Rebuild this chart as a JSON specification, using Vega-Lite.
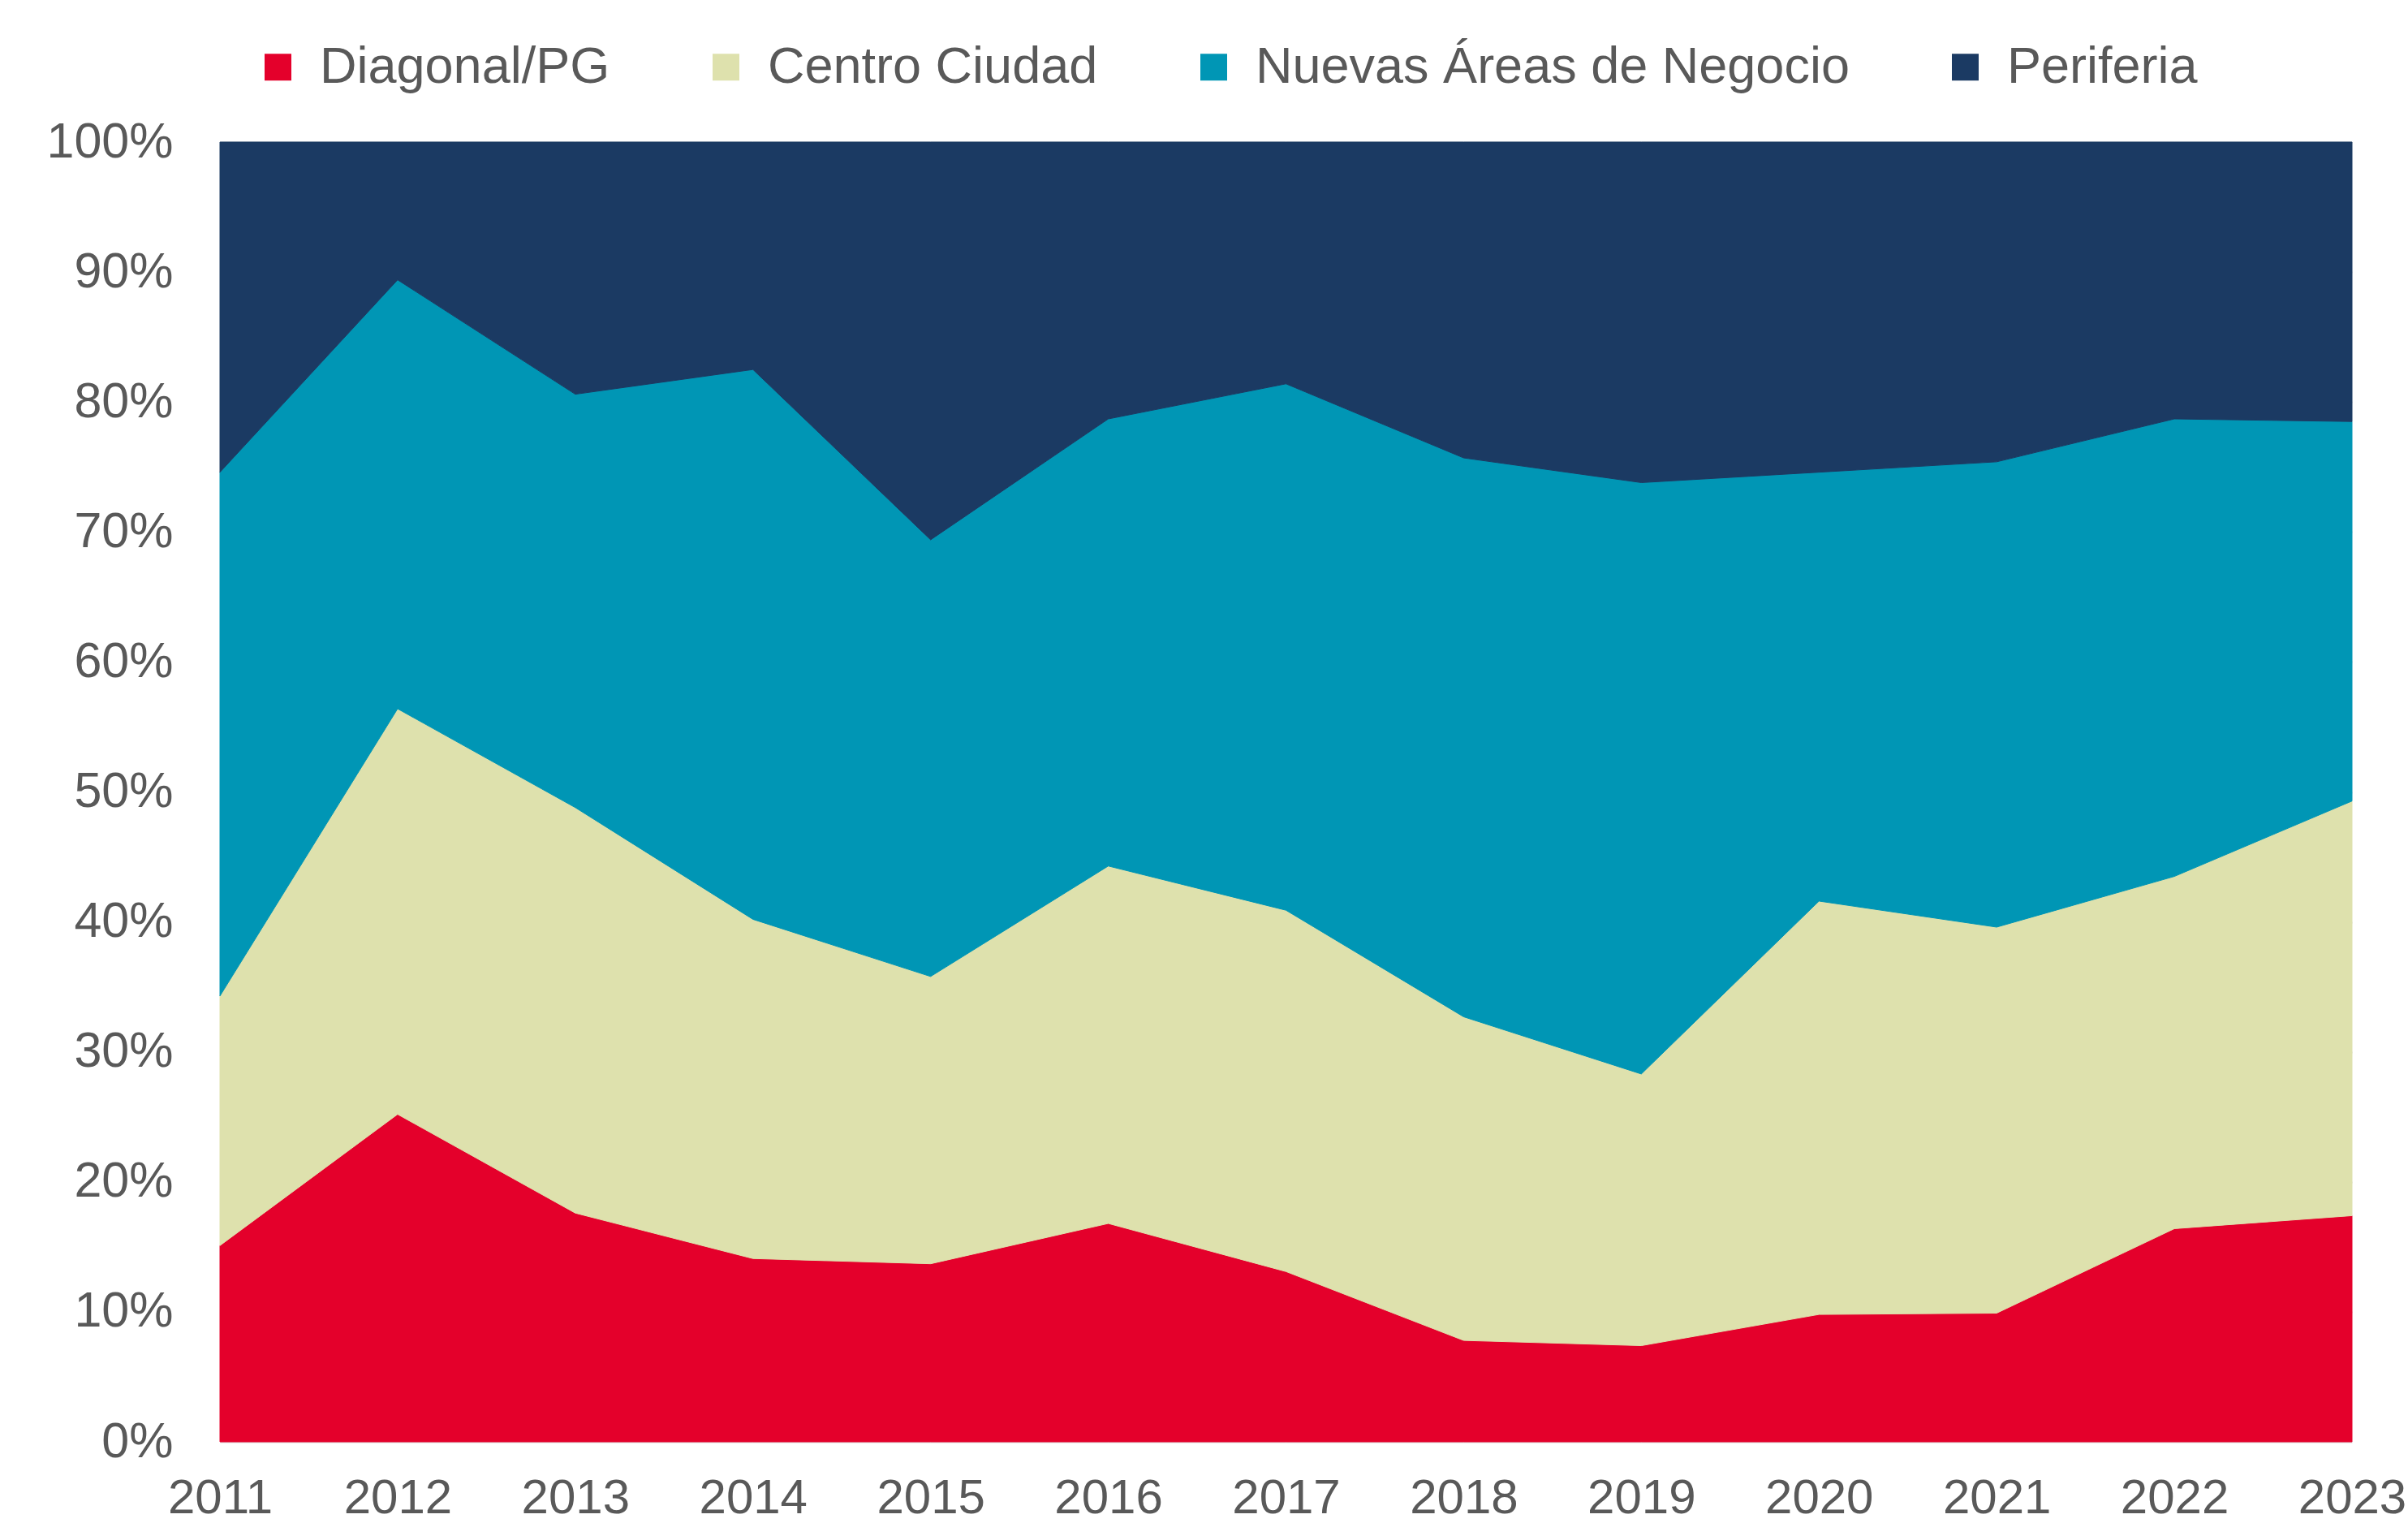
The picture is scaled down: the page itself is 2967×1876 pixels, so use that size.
{
  "$schema": "https://vega.github.io/schema/vega-lite/v6.json",
  "autosize": {"type": "none"},
  "padding": {"left": 271, "top": 175, "right": 69, "bottom": 100},
  "width": 2627,
  "height": 1601,
  "background": "white",
  "config": {
    "view": {"stroke": null},
    "font": "Liberation Sans",
    "axis": {"labelFont": "Liberation Sans", "labelColor": "#595959", "labelFontSize": 61},
    "legend": {"padding": 0}
  },
  "data": {
    "values": [
      {"year": 2011, "zona": "Diagonal/PG", "pct": 15.1},
      {"year": 2012, "zona": "Diagonal/PG", "pct": 25.2},
      {"year": 2013, "zona": "Diagonal/PG", "pct": 17.6},
      {"year": 2014, "zona": "Diagonal/PG", "pct": 14.1},
      {"year": 2015, "zona": "Diagonal/PG", "pct": 13.7},
      {"year": 2016, "zona": "Diagonal/PG", "pct": 16.8},
      {"year": 2017, "zona": "Diagonal/PG", "pct": 13.1},
      {"year": 2018, "zona": "Diagonal/PG", "pct": 7.8},
      {"year": 2019, "zona": "Diagonal/PG", "pct": 7.4},
      {"year": 2020, "zona": "Diagonal/PG", "pct": 9.8},
      {"year": 2021, "zona": "Diagonal/PG", "pct": 9.9},
      {"year": 2022, "zona": "Diagonal/PG", "pct": 16.4},
      {"year": 2023, "zona": "Diagonal/PG", "pct": 17.4},
      {"year": 2011, "zona": "Centro Ciudad", "pct": 19.2},
      {"year": 2012, "zona": "Centro Ciudad", "pct": 31.2},
      {"year": 2013, "zona": "Centro Ciudad", "pct": 31.2},
      {"year": 2014, "zona": "Centro Ciudad", "pct": 26.1},
      {"year": 2015, "zona": "Centro Ciudad", "pct": 22.1},
      {"year": 2016, "zona": "Centro Ciudad", "pct": 27.5},
      {"year": 2017, "zona": "Centro Ciudad", "pct": 27.8},
      {"year": 2018, "zona": "Centro Ciudad", "pct": 24.9},
      {"year": 2019, "zona": "Centro Ciudad", "pct": 20.9},
      {"year": 2020, "zona": "Centro Ciudad", "pct": 31.8},
      {"year": 2021, "zona": "Centro Ciudad", "pct": 29.7},
      {"year": 2022, "zona": "Centro Ciudad", "pct": 27.1},
      {"year": 2023, "zona": "Centro Ciudad", "pct": 31.9},
      {"year": 2011, "zona": "Nuevas Áreas de Negocio", "pct": 40.3},
      {"year": 2012, "zona": "Nuevas Áreas de Negocio", "pct": 33.0},
      {"year": 2013, "zona": "Nuevas Áreas de Negocio", "pct": 31.8},
      {"year": 2014, "zona": "Nuevas Áreas de Negocio", "pct": 42.3},
      {"year": 2015, "zona": "Nuevas Áreas de Negocio", "pct": 33.6},
      {"year": 2016, "zona": "Nuevas Áreas de Negocio", "pct": 34.4},
      {"year": 2017, "zona": "Nuevas Áreas de Negocio", "pct": 40.5},
      {"year": 2018, "zona": "Nuevas Áreas de Negocio", "pct": 43.0},
      {"year": 2019, "zona": "Nuevas Áreas de Negocio", "pct": 45.5},
      {"year": 2020, "zona": "Nuevas Áreas de Negocio", "pct": 33.0},
      {"year": 2021, "zona": "Nuevas Áreas de Negocio", "pct": 35.8},
      {"year": 2022, "zona": "Nuevas Áreas de Negocio", "pct": 35.2},
      {"year": 2023, "zona": "Nuevas Áreas de Negocio", "pct": 29.2},
      {"year": 2011, "zona": "Periferia", "pct": 25.4},
      {"year": 2012, "zona": "Periferia", "pct": 10.6},
      {"year": 2013, "zona": "Periferia", "pct": 19.4},
      {"year": 2014, "zona": "Periferia", "pct": 17.5},
      {"year": 2015, "zona": "Periferia", "pct": 30.6},
      {"year": 2016, "zona": "Periferia", "pct": 21.3},
      {"year": 2017, "zona": "Periferia", "pct": 18.6},
      {"year": 2018, "zona": "Periferia", "pct": 24.3},
      {"year": 2019, "zona": "Periferia", "pct": 26.2},
      {"year": 2020, "zona": "Periferia", "pct": 25.4},
      {"year": 2021, "zona": "Periferia", "pct": 24.6},
      {"year": 2022, "zona": "Periferia", "pct": 21.3},
      {"year": 2023, "zona": "Periferia", "pct": 21.5}
    ]
  },
  "transform": [
    {"calculate": "indexof(['Diagonal/PG', 'Centro Ciudad', 'Nuevas Áreas de Negocio', 'Periferia'], datum.zona)", "as": "orden"}
  ],
  "mark": {"type": "area", "strokeWidth": 1},
  "encoding": {
    "x": {
      "field": "year",
      "type": "quantitative",
      "scale": {"domain": [2011, 2023], "nice": false, "zero": false},
      "axis": {
        "title": null,
        "values": [2011, 2012, 2013, 2014, 2015, 2016, 2017, 2018, 2019, 2020, 2021, 2022, 2023],
        "format": "d",
        "grid": false,
        "ticks": false,
        "domain": false,
        "labelFlush": false,
        "labelOverlap": false,
        "labelPadding": 40,
        "labelFontSize": 60
      }
    },
    "y": {
      "field": "pct",
      "type": "quantitative",
      "stack": "normalize",
      "scale": {"domain": [0, 1], "nice": false},
      "axis": {
        "title": null,
        "values": [0, 0.1, 0.2, 0.3, 0.4, 0.5, 0.6, 0.7, 0.8, 0.9, 1],
        "format": ".0%",
        "grid": true,
        "gridColor": "#d9d9d9",
        "gridWidth": 2,
        "ticks": false,
        "domain": false,
        "labelPadding": 58,
        "labelFontSize": 61
      }
    },
    "order": {"field": "orden", "type": "quantitative", "sort": "ascending"},
    "color": {
      "field": "zona",
      "type": "nominal",
      "sort": ["Diagonal/PG", "Centro Ciudad", "Nuevas Áreas de Negocio", "Periferia"],
      "scale": {
        "domain": ["Diagonal/PG", "Centro Ciudad", "Nuevas Áreas de Negocio", "Periferia"],
        "range": ["#E4002B", "#DEE1AD", "#0096B5", "#1B3A63"]
      },
      "legend": {
        "title": null,
        "orient": "none",
        "direction": "horizontal",
        "legendX": 40,
        "legendY": -124,
        "symbolType": "square",
        "symbolSize": 1089,
        "symbolStrokeWidth": 0,
        "labelFont": "Liberation Sans",
        "labelFontSize": 63,
        "labelColor": "#595959",
        "labelOffset": 20,
        "columnPadding": 111,
        "labelLimit": 2000
      }
    },
    "stroke": {
      "field": "zona",
      "type": "nominal",
      "sort": ["Diagonal/PG", "Centro Ciudad", "Nuevas Áreas de Negocio", "Periferia"],
      "scale": {
        "domain": ["Diagonal/PG", "Centro Ciudad", "Nuevas Áreas de Negocio", "Periferia"],
        "range": ["#E4002B", "#DEE1AD", "#0096B5", "#1B3A63"]
      },
      "legend": null
    }
  }
}
